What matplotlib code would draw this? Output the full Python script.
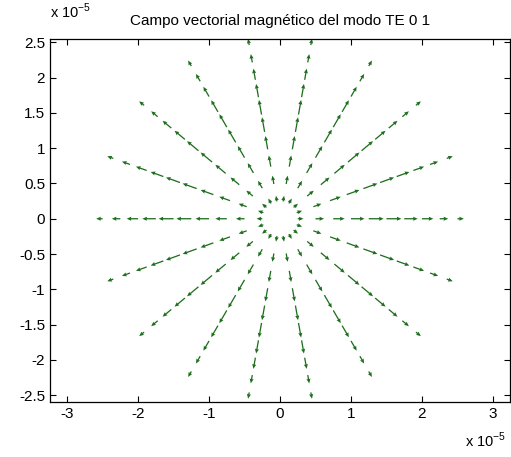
import numpy as np
import matplotlib
matplotlib.use("Agg")
import matplotlib.pyplot as plt

plt.rcParams['font.family'] = ['Liberation Sans', 'DejaVu Sans']
plt.rcParams['axes.unicode_minus'] = False

# field sampled on a polar grid (units of 1e-5 m)
angles_deg = [0, 20, 40, 60, 80, 100, 120, 140, 160, 180,
              200, 220, 240, 260, 280, 300, 320, 340]
radii = [0.25, 0.5, 0.75, 1.0, 1.25, 1.5, 1.75, 2.0, 2.25, 2.5]
# radial arrow length (same units)
arrow_len = [0.08, 0.12, 0.16, 0.19, 0.21, 0.21, 0.19, 0.16, 0.12, 0.09]

xticks = [-3, -2, -1, 0, 1, 2, 3]
yticks = [-2.5, -2, -1.5, -1, -0.5, 0, 0.5, 1, 1.5, 2, 2.5]
title = 'Campo vectorial magnético del modo TE 0 1'

th = np.deg2rad(np.array(angles_deg))
R, TH = np.meshgrid(np.array(radii), th)
L = np.tile(np.array(arrow_len), (len(th), 1))
X = R * np.cos(TH)
Y = R * np.sin(TH)
U = L * np.cos(TH)
V = L * np.sin(TH)

fig = plt.figure(figsize=(5.11, 4.57), dpi=100)
ax = fig.add_axes([0.098, 0.12, 0.9, 0.795])
ax.quiver(X, Y, U, V, angles='xy', scale_units='xy', scale=1,
          color='#1e6e1e', width=0.0028, headwidth=3.2, headlength=3.6,
          headaxislength=3.3)

ax.set_xlim(-3.24, 3.24)
ax.set_ylim(-2.6, 2.55)
ax.set_xticks(xticks)
ax.set_xticklabels([str(t) for t in xticks])
ax.set_yticks(yticks)
ax.set_yticklabels(['%g' % t for t in yticks])
ax.tick_params(direction='in', top=True, right=True, labelsize=11,
               length=4, width=0.8)
for s in ax.spines.values():
    s.set_linewidth(0.9)

ax.set_title(title, fontsize=11, pad=10)
fig.text(0.098, 0.955, r'x 10$^{\mathregular{-5}}$', fontsize=10.5,
         ha='left', va='bottom')
fig.text(0.99, 0.015, r'x 10$^{\mathregular{-5}}$', fontsize=10.5,
         ha='right', va='bottom')

fig.savefig('out.png', dpi=100)
